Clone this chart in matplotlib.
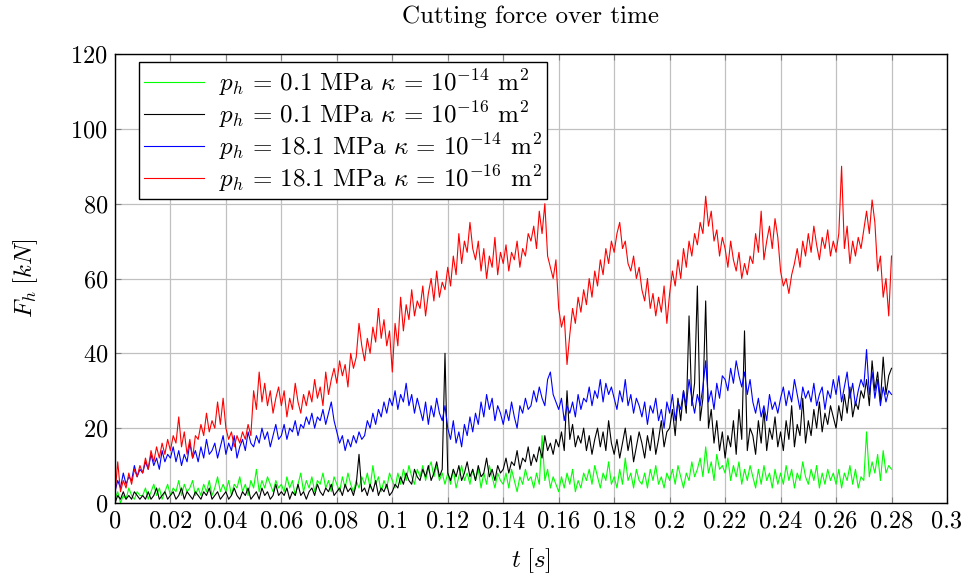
import numpy as np
import matplotlib.pyplot as plt
from matplotlib.ticker import MultipleLocator, FormatStrFormatter

plt.rcParams['font.family'] = 'serif'
plt.rcParams['font.serif'] = ['cmr10']
plt.rcParams['mathtext.fontset'] = 'cm'
plt.rcParams['axes.formatter.use_mathtext'] = True

# tempo (s), um ponto a cada 1 ms
t = np.linspace(0, 0.28, 281)

# p_h = 18.1 MPa, kappa = 1e-16
f_red = [2, 11, 3, 6, 4, 8, 5, 9, 7, 10,
         8, 12, 9, 14, 11, 15, 12, 16, 13, 17,
         14, 18, 16, 23, 15, 19, 13, 17, 12, 18,
         17, 21, 18, 24, 19, 22, 20, 27, 21, 28,
         20, 17, 19, 15, 18, 16, 19, 17, 21, 18,
         30, 25, 35, 27, 32, 26, 30, 24, 28, 31,
         26, 30, 23, 28, 25, 32, 27, 24, 29, 26,
         30, 27, 33, 28, 31, 26, 35, 29, 33, 36,
         32, 38, 34, 37, 31, 40, 36, 39, 48, 42,
         38, 44, 40, 47, 43, 52, 44, 49, 42, 46,
         35, 48, 42, 55, 46, 53, 49, 57, 50, 54,
         52, 58, 50, 56, 60, 54, 62, 55, 59, 57,
         63, 58, 66, 61, 72, 64, 70, 67, 75, 68,
         65, 70, 62, 68, 60, 66, 63, 71, 61, 67,
         64, 69, 62, 67, 65, 70, 63, 68, 66, 72,
         70, 74, 68, 78, 72, 80, 66, 63, 60, 65,
         52, 47, 50, 37, 45, 52, 48, 55, 51, 57,
         53, 60, 55, 62, 58, 65, 61, 68, 64, 70,
         67, 72, 75, 68, 70, 64, 62, 66, 60, 63,
         57, 54, 60, 52, 56, 50, 55, 51, 58, 48,
         56, 62, 58, 65, 60, 68, 63, 70, 66, 72,
         69, 75, 72, 82, 74, 78, 70, 73, 66, 71,
         68, 63, 70, 65, 62, 67, 60, 64, 61, 66,
         64, 72, 67, 78, 65, 70, 74, 68, 76, 71,
         62, 58, 60, 56, 61, 64, 68, 63, 70, 66,
         72, 67, 74, 69, 65, 71, 68, 73, 66, 70,
         67, 72, 90, 68, 74, 64, 70, 66, 71, 68,
         73, 78, 72, 81, 75, 62, 66, 55, 60, 50,
         66]

# p_h = 18.1 MPa, kappa = 1e-14
f_blue = [3, 6, 4, 8, 5, 7, 6, 10, 7, 9,
          8, 11, 9, 13, 10, 12, 9, 14, 11, 13,
          12, 15, 11, 14, 10, 13, 11, 16, 12, 14,
          11, 15, 12, 17, 13, 14, 16, 12, 15, 18,
          13, 16, 14, 18, 12, 15, 17, 14, 19, 16,
          15, 18, 16, 20, 17, 19, 15, 18, 21, 17,
          18, 21, 17, 20, 19, 22, 18, 21, 20, 23,
          21, 24, 20, 23, 22, 25, 21, 24, 27, 22,
          19, 16, 18, 14, 17, 15, 18, 16, 19, 17,
          18, 22, 20, 24, 21, 25, 23, 27, 24, 28,
          26, 30, 25, 29, 27, 32, 26, 29, 24, 28,
          25, 22, 27, 21, 26, 23, 28, 24, 22, 26,
          20, 17, 22, 16, 19, 15, 21, 18, 23, 19,
          24, 21, 27, 23, 29, 25, 28, 22, 26, 24,
          21, 25, 22, 27, 23, 20, 26, 24, 28, 25,
          26, 30, 27, 31, 28, 26, 33, 35, 29, 27,
          25, 28, 22, 26, 24, 27, 23, 29, 25, 28,
          27, 31, 26, 30, 28, 33, 27, 32, 29, 31,
          28, 25, 30, 27, 33, 26, 29, 24, 28, 26,
          23, 27, 21, 26, 24, 28, 22, 25, 20, 27,
          24, 29, 22, 27, 25, 30, 26, 33, 28, 24,
          29, 26, 31, 38, 27, 30, 25, 32, 28, 34,
          33, 30, 36, 32, 38, 34, 31, 35, 29, 33,
          27, 24, 28, 23, 26, 22, 29, 25, 27, 24,
          28, 31, 26, 30, 27, 33, 29, 25, 31, 28,
          30, 27, 32, 26, 29, 31, 25, 30, 28, 33,
          29, 34, 27, 31, 35, 28, 32, 26, 30, 33,
          31, 41, 29, 35, 28, 33, 26, 31, 27, 30,
          29]

# p_h = 0.1 MPa, kappa = 1e-16
f_black = [0, 2, 1, 3, 1, 2, 1, 3, 2, 1,
           2, 1, 3, 1, 2, 4, 1, 2, 3, 1,
           2, 3, 1, 2, 4, 1, 3, 2, 1, 3,
           2, 1, 3, 2, 4, 1, 2, 3, 1, 2,
           3, 1, 2, 4, 2, 1, 3, 2, 4, 1,
           2, 3, 1, 4, 2, 3, 1, 2, 5, 2,
           3, 2, 4, 1, 3, 2, 5, 2, 3, 1,
           3, 4, 2, 5, 3, 2, 4, 3, 5, 2,
           3, 4, 2, 5, 3, 4, 2, 5, 13, 3,
           4, 2, 5, 3, 6, 2, 4, 3, 5, 2,
           3, 5, 4, 7, 5, 8, 6, 5, 9, 7,
           6, 9, 7, 10, 6, 8, 11, 7, 9, 40,
           8, 6, 9, 7, 10, 6, 8, 11, 7, 9,
           6, 10, 7, 8, 12, 7, 9, 6, 10, 8,
           9, 12, 8, 11, 10, 14, 9, 12, 11, 15,
           10, 13, 11, 15, 12, 18, 14, 16, 13, 17,
           15, 19, 14, 30, 17, 21, 15, 18, 16, 20,
           14, 18, 13, 17, 20, 15, 19, 14, 22, 16,
           13, 17, 12, 16, 20, 14, 18, 11, 15, 19,
           16, 12, 18, 14, 20, 13, 17, 22, 15, 19,
           20, 25, 18, 28, 22, 30, 24, 50, 26, 32,
           58, 22, 28, 54, 20, 25, 16, 22, 14, 19,
           12, 18, 15, 22, 13, 25, 17, 46, 14, 20,
           18, 13, 22, 16, 25, 14, 20, 17, 23, 15,
           19, 14, 22, 17, 26, 15, 21, 18, 28, 16,
           22, 18, 25, 20, 27, 19, 24, 21, 26, 23,
           20, 26, 22, 29, 24, 31, 23, 27, 25, 30,
           28, 33, 26, 38, 30, 35, 27, 39, 29, 34,
           36]

# p_h = 0.1 MPa, kappa = 1e-14
f_green = [1, 3, 0, 2, 1, 4, 2, 1, 3, 2,
           2, 4, 1, 3, 5, 2, 4, 1, 3, 5,
           2, 4, 3, 6, 2, 5, 3, 4, 6, 2,
           4, 2, 5, 3, 6, 2, 4, 7, 3, 5,
           3, 6, 2, 5, 4, 7, 3, 5, 2, 6,
           4, 9, 3, 6, 4, 7, 5, 3, 6, 4,
           5, 3, 7, 4, 6, 2, 5, 8, 3, 6,
           4, 7, 3, 6, 5, 8, 4, 6, 3, 7,
           5, 3, 7, 4, 8, 5, 3, 6, 4, 7,
           5, 8, 4, 10, 5, 7, 3, 6, 4, 8,
           6, 4, 8, 5, 9, 6, 10, 7, 5, 9,
           7, 10, 6, 9, 11, 7, 10, 6, 8, 5,
           8, 5, 9, 4, 7, 10, 6, 8, 5, 9,
           6, 9, 4, 8, 5, 10, 7, 4, 8, 6,
           5, 8, 4, 9, 6, 3, 7, 5, 9, 6,
           7, 4, 8, 5, 18, 6, 9, 4, 7, 5,
           3, 7, 4, 8, 5, 9, 3, 6, 4, 8,
           6, 9, 5, 10, 7, 4, 8, 6, 11, 5,
           7, 4, 9, 5, 12, 6, 8, 4, 9, 6,
           5, 8, 4, 9, 6, 10, 5, 7, 4, 8,
           6, 9, 5, 10, 7, 4, 8, 6, 11, 7,
           9, 12, 7, 15, 8, 11, 6, 13, 9, 10,
           8, 12, 6, 10, 7, 11, 5, 9, 6, 10,
           7, 4, 9, 5, 10, 6, 8, 4, 9, 5,
           8, 5, 10, 6, 9, 4, 8, 6, 11, 7,
           5, 9, 6, 10, 4, 8, 5, 9, 6, 8,
           5, 9, 4, 8, 6, 10, 5, 9, 4, 7,
           6, 19, 7, 11, 8, 13, 6, 14, 8, 10,
           9]

labels = [r'$p_h\, =\, 0.1$ MPa $\kappa\, =\, 10^{-14}$ m$^2$',
          r'$p_h\, =\, 0.1$ MPa $\kappa\, =\, 10^{-16}$ m$^2$',
          r'$p_h\, =\, 18.1$ MPa $\kappa\, =\, 10^{-14}$ m$^2$',
          r'$p_h\, =\, 18.1$ MPa $\kappa\, =\, 10^{-16}$ m$^2$']

fig = plt.figure(figsize=(9.8, 5.81), dpi=100)
ax = fig.add_axes([0.1173, 0.1343, 0.849, 0.7727])

ax.plot(t, f_green, color='#00ff00', lw=0.8, label=labels[0])
ax.plot(t, f_black, color='black', lw=0.8, label=labels[1])
ax.plot(t, f_blue, color='#0000ff', lw=0.8, label=labels[2])
ax.plot(t, f_red, color='#ff0000', lw=0.8, label=labels[3])

ax.set_xlim(0, 0.3)
ax.set_ylim(0, 120)
ax.xaxis.set_major_locator(MultipleLocator(0.02))
ax.yaxis.set_major_locator(MultipleLocator(20))
ax.xaxis.set_major_formatter(FormatStrFormatter('%g'))
ax.grid(True, color='#c0c0c0', lw=0.9)
ax.set_axisbelow(True)
ax.tick_params(direction='in', top=True, right=True, labelsize=17.5, length=4, color='#808080', pad=5)
for s in ax.spines.values():
    s.set_linewidth(1.0)

ax.set_xlabel(r'$t\;[s]$', fontsize=18, labelpad=10)
ax.set_ylabel(r'$F_h\;[kN]$', fontsize=18, labelpad=22)
ax.set_title('Cutting force over time', fontsize=18, pad=22)

leg = ax.legend(loc='upper left', bbox_to_anchor=(0.029, 0.982), borderaxespad=0,
                fontsize=18, fancybox=False, framealpha=1, edgecolor='black',
                handlelength=2.4, labelspacing=0.05, borderpad=0.2, handletextpad=0.6)
leg.get_frame().set_linewidth(1.0)

plt.savefig('out.png', dpi=100)
